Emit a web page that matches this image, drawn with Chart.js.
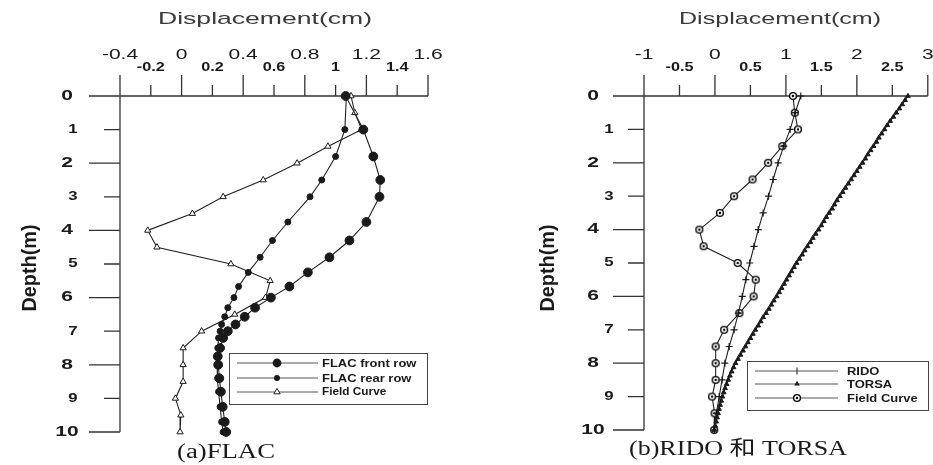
<!DOCTYPE html>
<html>
<head>
<meta charset="utf-8">
<script src="https://cdn.jsdelivr.net/npm/chart.js@4.4.1/dist/chart.umd.min.js"></script>
<style>
  body { margin: 0; background: #fff; }
  #wrap { position: relative; width: 933px; height: 465px; overflow: hidden; }
  canvas { position: absolute; top: 0; }
  #flac { left: 0; }
  #rido { left: 466px; }
</style>
</head>
<body>
<div id="wrap">
  <canvas id="flac" width="466" height="465"></canvas>
  <canvas id="rido" width="467" height="465"></canvas>
</div>
<script>
// FLAC model, front and rear pile rows (shared node depths, m)
const flacDepth = [0, 1.0, 1.8, 2.5, 3.0, 3.75, 4.3, 4.8, 5.25, 5.67, 6.0, 6.3, 6.57, 6.8, 7.0, 7.2, 7.5, 7.75, 8.0, 8.4, 8.8, 9.25, 9.7, 10.0];
const flacFront = [1.065, 1.18, 1.245, 1.29, 1.285, 1.2, 1.09, 0.96, 0.82, 0.70, 0.58, 0.477, 0.41, 0.35, 0.30, 0.27, 0.25, 0.235, 0.238, 0.245, 0.255, 0.267, 0.28, 0.29];
const flacRear = [1.07, 1.06, 1.0, 0.91, 0.834, 0.69, 0.59, 0.51, 0.433, 0.37, 0.34, 0.30, 0.28, 0.26, 0.25, 0.24, 0.235, 0.23, 0.23, 0.235, 0.24, 0.25, 0.26, 0.27];

// inclinometer readings and RIDO, every 0.5 m
const fieldDepth = [0, 0.5, 1, 1.5, 2, 2.5, 3, 3.5, 4, 4.5, 5, 5.5, 6, 6.5, 7, 7.5, 8, 8.5, 9, 9.5, 10];
const fieldCurve = [1.10, 1.125, 1.17, 0.95, 0.75, 0.53, 0.27, 0.07, -0.22, -0.16, 0.32, 0.575, 0.545, 0.345, 0.13, 0.01, 0.01, 0.01, -0.04, -0.005, -0.01];
const ridoDisp = [1.21, 1.13, 1.06, 0.97, 0.89, 0.82, 0.755, 0.68, 0.61, 0.55, 0.49, 0.435, 0.385, 0.33, 0.27, 0.2, 0.14, 0.1, 0.06, 0.02, -0.01];

// TORSA output nodes
const torsaDepth = [0, 0.125, 0.25, 0.375, 0.5, 0.625, 0.75, 0.875, 1, 1.125, 1.25, 1.375, 1.5, 1.625, 1.75, 1.875, 2, 2.125, 2.25, 2.375, 2.5, 2.625, 2.75, 2.875, 3, 3.125, 3.25, 3.375, 3.5, 3.625, 3.75, 3.875, 4, 4.125, 4.25, 4.375, 4.5, 4.625, 4.75, 4.875, 5, 5.125, 5.25, 5.375, 5.5, 5.625, 5.75, 5.875, 6, 6.125, 6.25, 6.375, 6.5, 6.625, 6.75, 6.875, 7, 7.125, 7.25, 7.375, 7.5, 7.625, 7.75, 7.875, 8, 8.125, 8.25, 8.375, 8.5, 8.625, 8.75, 8.875, 9, 9.125, 9.25, 9.375, 9.5, 9.625, 9.75, 9.875, 10];
const torsaDisp = [2.72, 2.68, 2.64, 2.60, 2.555, 2.515, 2.47, 2.43, 2.39,
  2.35, 2.31, 2.275, 2.235, 2.195, 2.155, 2.12, 2.08,
  2.04, 2.0, 1.96, 1.92, 1.88, 1.84, 1.80, 1.76,
  1.72, 1.685, 1.65, 1.61, 1.57, 1.535, 1.50, 1.46,
  1.42, 1.38, 1.345, 1.305, 1.265, 1.23, 1.19, 1.15,
  1.115, 1.08, 1.045, 1.01, 0.975, 0.94, 0.905, 0.87,
  0.83, 0.795, 0.76, 0.72, 0.68, 0.645, 0.61, 0.57,
  0.535, 0.50, 0.465, 0.43, 0.395, 0.36, 0.325, 0.29,
  0.262, 0.236, 0.211, 0.187, 0.164, 0.143, 0.123, 0.105,
  0.089, 0.073, 0.058, 0.044, 0.031, 0.018, 0.004, -0.01];

// axis ticks
const flacMajor = [-0.4, 0, 0.4, 0.8, 1.2, 1.6];
const flacMajorLabels = ['-0.4', '0', '0.4', '0.8', '1.2', '1.6'];
const flacMinor = [-0.2, 0.2, 0.6, 1, 1.4];
const flacMinorLabels = ['-0.2', '0.2', '0.6', '1', '1.4'];
const ridoMajor = [-1, 0, 1, 2, 3];
const ridoMajorLabels = ['-1', '0', '1', '2', '3'];
const ridoMinor = [-0.5, 0.5, 1.5, 2.5];
const ridoMinorLabels = ['-0.5', '0.5', '1.5', '2.5'];
const depthMajor = [0, 2, 4, 6, 8, 10];
const depthMinor = [1, 3, 5, 7, 9];

const INK = '#1a1a1a';

// open circle with a dot in the middle
const ringMark = document.createElement('canvas');
ringMark.width = 10; ringMark.height = 10;
(function () {
  const c = ringMark.getContext('2d');
  c.strokeStyle = '#000'; c.lineWidth = 1.4; c.fillStyle = '#fff';
  c.beginPath(); c.arc(5, 5, 3.4, 0, Math.PI * 2); c.fill(); c.stroke();
  c.fillStyle = '#000';
  c.beginPath(); c.arc(5, 5, 1.2, 0, Math.PI * 2); c.fill();
})();

function pts(depth, vals) {
  return depth.map((d, i) => ({ x: vals[i], y: d }));
}

function drawText(ctx, str, x, y, o) {
  ctx.save();
  ctx.translate(x, y);
  if (o.rotate) ctx.rotate(o.rotate);
  ctx.font = o.font;
  ctx.fillStyle = o.color || INK;
  ctx.textBaseline = 'middle';
  ctx.textAlign = o.align || 'center';
  let sx = o.sx || 1;
  if (o.width) sx = o.width / ctx.measureText(str).width;
  ctx.scale(sx, o.sy || 1);
  ctx.fillText(str, 0, 0);
  ctx.restore();
}

function drawMark(ctx, kind, x, y, r) {
  ctx.save();
  ctx.fillStyle = INK; ctx.strokeStyle = INK; ctx.lineWidth = 1;
  ctx.beginPath();
  if (kind === 'circle') {
    ctx.arc(x, y, r, 0, Math.PI * 2); ctx.fill();
  } else if (kind === 'triangle' || kind === 'opentri') {
    for (let k = 0; k < 3; k++) {
      const a = k * Math.PI * 2 / 3;
      ctx.lineTo(x + Math.sin(a) * r, y - Math.cos(a) * r);
    }
    ctx.closePath();
    if (kind === 'opentri') { ctx.fillStyle = '#fff'; ctx.fill(); ctx.stroke(); } else ctx.fill();
  } else if (kind === 'cross') {
    ctx.moveTo(x, y - r); ctx.lineTo(x, y + r); ctx.stroke();
  } else if (kind === 'ring') {
    ctx.drawImage(ringMark, x - 5, y - 5);
  }
  ctx.restore();
}

// hand-drawn style axes, labels, legend and caption
const paperAxes = {
  id: 'paperAxes',
  beforeDatasetsDraw(chart, args, o) {
    const { ctx, chartArea: a, scales: { x, y } } = chart;
    ctx.save();
    ctx.strokeStyle = '#333';
    ctx.lineWidth = 1.3;
    ctx.beginPath();
    ctx.moveTo(a.left, a.top - 21); ctx.lineTo(a.left, a.bottom);
    ctx.moveTo(a.left - 31, a.top); ctx.lineTo(a.right, a.top);
    o.xMajor.forEach(v => {
      const px = x.getPixelForValue(v);
      ctx.moveTo(px, a.top - 21); ctx.lineTo(px, a.top);
    });
    o.xMinor.forEach(v => {
      const px = x.getPixelForValue(v);
      ctx.moveTo(px, a.top - 11); ctx.lineTo(px, a.top);
    });
    depthMajor.forEach(v => {
      const py = y.getPixelForValue(v);
      ctx.moveTo(a.left - 31, py); ctx.lineTo(a.left, py);
    });
    depthMinor.forEach(v => {
      const py = y.getPixelForValue(v);
      ctx.moveTo(a.left - 16, py); ctx.lineTo(a.left, py);
    });
    ctx.stroke();
    ctx.restore();
  },
  afterDraw(chart, args, o) {
    const { ctx, scales: { x, y } } = chart;
    o.xMajor.forEach((v, i) => drawText(ctx, o.xMajorLabels[i], x.getPixelForValue(v), 55,
      { font: '14px "Liberation Sans"', sx: 1.5 }));
    o.xMinor.forEach((v, i) => drawText(ctx, o.xMinorLabels[i], x.getPixelForValue(v), 68,
      { font: 'bold 12px "Liberation Sans"', sx: 1.35 }));
    depthMajor.forEach(v => drawText(ctx, String(v), o.yMajorX, y.getPixelForValue(v),
      { font: 'bold 14px "Liberation Sans"', sx: 1.5 }));
    depthMinor.forEach(v => drawText(ctx, String(v), o.yMinorX, y.getPixelForValue(v),
      { font: 'bold 12px "Liberation Sans"', sx: 1.4 }));

    drawText(ctx, 'Displacement(cm)', o.titleX, 19,
      { font: '17px "Liberation Sans"', width: o.titleW, color: '#3a3a3a' });
    drawText(ctx, 'Depth(m)', o.depthX, 268,
      { font: 'bold 15px "Liberation Sans Narrow", "Liberation Sans"', rotate: -Math.PI / 2, width: 87, sy: 1.35 });
    drawText(ctx, o.caption, o.captionX, o.captionY,
      { font: '20px "Liberation Serif", "Noto Sans CJK SC"', width: o.captionW });

    // legend box
    const L = o.legend;
    ctx.save();
    ctx.fillStyle = '#fff';
    ctx.strokeStyle = '#444';
    ctx.lineWidth = 1;
    ctx.fillRect(L.left, L.top, L.right - L.left, L.bottom - L.top);
    ctx.strokeRect(L.left + 0.5, L.top + 0.5, L.right - L.left, L.bottom - L.top);
    L.items.forEach((it, i) => {
      const yy = L.rows[i];
      ctx.strokeStyle = '#555';
      ctx.beginPath();
      ctx.moveTo(L.lineFrom, yy); ctx.lineTo(L.lineTo, yy);
      ctx.stroke();
      drawMark(ctx, it.kind, L.markX, yy, it.r);
      drawText(ctx, it.text, L.textX, yy + 0.5,
        { font: 'bold ' + it.size + 'px "Liberation Sans"', align: 'left', sx: 1.18 });
    });
    ctx.restore();
  }
};

function depthChart(id, datasets, axes) {
  return new Chart(document.getElementById(id), {
    type: 'scatter',
    data: { datasets },
    options: {
      responsive: false,
      animation: false,
      layout: { padding: axes.padding },
      scales: {
        x: { type: 'linear', min: axes.xMin, max: axes.xMax, display: false },
        y: { type: 'linear', min: 0, max: 10, reverse: true, display: false }
      },
      elements: {
        line: { borderWidth: 1.1, borderColor: '#222', tension: 0 },
        point: { borderColor: INK, backgroundColor: INK, borderWidth: 1 }
      },
      plugins: {
        legend: { display: false },
        tooltip: { enabled: false },
        paperAxes: axes
      }
    },
    plugins: [paperAxes]
  });
}

depthChart('flac', [
  { data: pts(flacDepth, flacFront), showLine: true, clip: false, pointStyle: 'circle', pointRadius: 4.4 },
  { data: pts(flacDepth, flacRear), showLine: true, clip: false, pointStyle: 'circle', pointRadius: 3 },
  { data: pts(fieldDepth, fieldCurve), showLine: true, clip: false, pointStyle: 'triangle', pointRadius: 3.6,
    pointBackgroundColor: '#fff' }
], {
  padding: { left: 120, right: 38, top: 96, bottom: 33 },
  xMin: -0.4, xMax: 1.6,
  xMajor: flacMajor, xMajorLabels: flacMajorLabels,
  xMinor: flacMinor, xMinorLabels: flacMinorLabels,
  yMajorX: 67, yMinorX: 73,
  titleX: 265, titleW: 214,
  depthX: 30,
  caption: '(a)FLAC', captionX: 226, captionY: 453, captionW: 98,
  legend: {
    left: 229, top: 353, right: 427, bottom: 404,
    rows: [363, 378, 392], lineFrom: 237, lineTo: 318, markX: 277, textX: 322,
    items: [
      { text: 'FLAC front row', kind: 'circle', r: 4.4, size: 11 },
      { text: 'FLAC rear row', kind: 'circle', r: 3, size: 11 },
      { text: 'Field Curve', kind: 'opentri', r: 3.6, size: 10 }
    ]
  }
});

depthChart('rido', [
  { data: pts(fieldDepth, ridoDisp), showLine: true, clip: false, pointStyle: 'cross', pointRadius: 3.5, pointBorderWidth: 1.2 },
  { data: pts(torsaDepth, torsaDisp), showLine: true, clip: false, pointStyle: 'triangle', pointRadius: 2.7 },
  { data: pts(fieldDepth, fieldCurve), showLine: true, clip: false, pointStyle: ringMark }
], {
  padding: { left: 178, right: 2, top: 96, bottom: 35 },
  xMin: -1, xMax: 3,
  xMajor: ridoMajor, xMajorLabels: ridoMajorLabels,
  xMinor: ridoMinor, xMinorLabels: ridoMinorLabels,
  yMajorX: 127, yMinorX: 143,
  titleX: 314, titleW: 202,
  depthX: 82,
  caption: '(b)RIDO 和 TORSA', captionX: 272, captionY: 450, captionW: 218,
  legend: {
    left: 281, top: 361, right: 462, bottom: 410,
    rows: [371, 384, 398], lineFrom: 289, lineTo: 372, markX: 331, textX: 381,
    items: [
      { text: 'RIDO', kind: 'cross', r: 3.5, size: 11 },
      { text: 'TORSA', kind: 'triangle', r: 3.2, size: 11 },
      { text: 'Field Curve', kind: 'ring', r: 3.4, size: 11 }
    ]
  }
});
</script>
</body>
</html>
